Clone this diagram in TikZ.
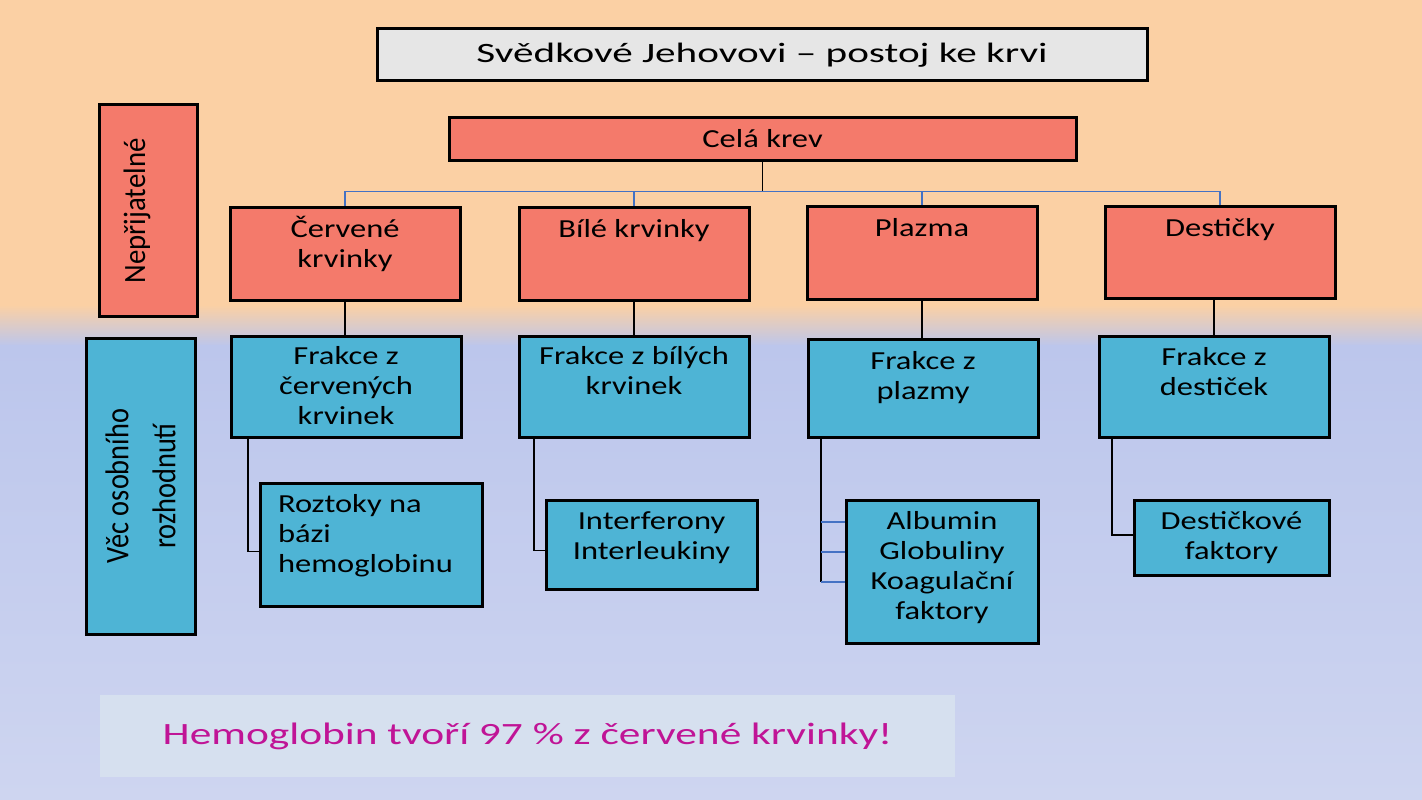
\documentclass[tikz,border=0pt]{standalone}
\usepackage{fontspec}
\setmainfont{Carlito}
\newfontfamily\boxfont{Carlito}[FakeStretch=1.25]
\newfontfamily\titlefont{Carlito}[FakeStretch=1.47]
\newfontfamily\banfont{Carlito}[FakeStretch=1.4]
\newfontfamily\sidefontA{Carlito}[FakeStretch=0.93]
\newfontfamily\sidefontB{Carlito}[FakeStretch=0.86]
\definecolor{peach}{RGB}{251,208,164}
\definecolor{lavA}{RGB}{188,198,236}
\definecolor{lavB}{RGB}{206,213,240}
\definecolor{salmon}{RGB}{244,122,107}
\definecolor{cyanbox}{RGB}{78,180,213}
\definecolor{titlegray}{RGB}{230,230,230}
\definecolor{banner}{RGB}{214,224,239}
\definecolor{magtext}{RGB}{192,20,150}
\definecolor{busblue}{RGB}{68,114,196}
\newcommand\bt[4]{\parbox[c][#2pt][t]{#1pt}{\centering\baselineskip=30pt\rule{0pt}{#3pt}#4\par}}
\newcommand\btl[5]{\parbox[c][#2pt][t]{#1pt}{\raggedright\leftskip=#4pt\baselineskip=30pt\rule{0pt}{#3pt}#5\par}}
\begin{document}
\begin{tikzpicture}[x=1pt,y=-1pt,
  redbox/.style={draw=black,line width=3pt,fill=salmon,inner sep=0pt,font=\boxfont\fontsize{26}{30}\selectfont},
  bluebox/.style={draw=black,line width=3pt,fill=cyanbox,inner sep=0pt,font=\boxfont\fontsize{26}{30}\selectfont},
  blk/.style={draw=black,line width=1.4pt},
  bl/.style={draw=busblue,line width=1.3pt}]
\useasboundingbox (0,0) rectangle (1422,800);
% background
\fill[peach] (0,0) rectangle (1422,306);
\shade[top color=peach,bottom color=lavA] (0,305) rectangle (1422,346);
\shade[top color=lavA,bottom color=lavB] (0,345) rectangle (1422,800);
% title
\node[draw=black,line width=3pt,fill=titlegray,minimum width=770pt,minimum height=52pt,inner sep=0pt,font=\titlefont\fontsize{28}{32}\selectfont] (title) at (762,55) {Svědkové Jehovovi – postoj ke krvi};
% side labels
\node[redbox,minimum width=98pt,minimum height=212pt] (nep) at (148,210) {};
\node[rotate=90,inner sep=0pt,font=\sidefontA\fontsize{31}{34}\selectfont] (neptext) at (137,211) {Nepřijatelné};
\node[bluebox,minimum width=109pt,minimum height=296pt] (vec) at (140.5,486) {};
\node[rotate=90,align=center,inner sep=0pt,font=\sidefontB\fontsize{33}{47}\selectfont] (vectext) at (vec.center) {Věc osobního\\rozhodnutí};
% level 1
\node[redbox,minimum width=627pt,minimum height=43pt] (cela) at (762.5,138.5) {Celá krev};
% level 2
\node[redbox] (cerv) at (345,253.5) {\bt{230}{93}{30}{Červené\\krvinky}};
\node[redbox] (bile) at (634,253.5) {\bt{230}{93}{30}{Bílé krvinky}};
\node[redbox] (plaz) at (922,252.5) {\bt{230}{93}{30}{Plazma}};
\node[redbox] (dest) at (1220,252) {\bt{230}{92}{30}{Destičky}};
% level 3
\node[bluebox] (fcerv) at (346,386.5) {\bt{230}{101}{28}{Frakce z\\červených\\krvinek}};
\node[bluebox] (fbile) at (634,386.5) {\bt{230}{101}{28}{Frakce z bílých\\krvinek}};
\node[bluebox] (fplaz) at (923,388) {\bt{230}{98}{30}{Frakce z\\plazmy}};
\node[bluebox] (fdest) at (1214,386.5) {\bt{230}{101}{29}{Frakce z\\destiček}};
% level 4
\node[bluebox] (rozt) at (371,544.5) {\btl{222}{123}{29}{18}{Roztoky na\\bázi\\hemoglobinu}};
\node[bluebox] (inter) at (651.5,544.5) {\bt{211}{89}{29}{Interferony\\Interleukiny}};
\node[bluebox] (alb) at (942,571.5) {\bt{192}{143}{29}{Albumin\\Globuliny\\Koagulační\\faktory}};
\node[bluebox] (dfak) at (1231.5,537.5) {\bt{195}{75}{29}{Destičkové\\faktory}};
% connectors level 1-2
\coordinate (bus) at ([yshift=-30pt]cela.south);
\draw[blk] (cela.south) -- (bus);
\draw[bl] (cerv.north) |- (bus) -| (dest.north);
\draw[bl] (bile.north) -- (bile.north |- bus);
\draw[bl] (plaz.north) -- (plaz.north |- bus);
% level 2-3
\draw[blk] (cerv.south) -- (cerv.south |- fcerv.north);
\draw[blk] (bile.south) -- (bile.south |- fbile.north);
\draw[blk] (plaz.south) -- (plaz.south |- fplaz.north);
\draw[blk] (fdest.north) -- (fdest.north |- dest.south);
% level 3-4
\draw[blk] ([xshift=-98pt]fcerv.south) |- ([yshift=-7pt]rozt.west);
\draw[blk] ([xshift=-100pt]fbile.south) |- ([yshift=-6pt]inter.west);
\coordinate (spine) at ([xshift=-102pt]fplaz.south);
\coordinate (ta) at ([yshift=49.5pt]alb.west);
\coordinate (tb) at ([yshift=19.5pt]alb.west);
\coordinate (tc) at ([yshift=-10.5pt]alb.west);
\draw[blk] (spine) -- (spine |- tc);
\draw[bl] (ta) -- (spine |- ta);
\draw[bl] (tb) -- (spine |- tb);
\draw[bl] (tc) -- (spine |- tc);
\draw[blk] ([xshift=-102pt]fdest.south) |- ([yshift=2.5pt]dfak.west);
% banner
\node[fill=banner,minimum width=855pt,minimum height=82pt,inner sep=0pt,text=magtext,font=\banfont\fontsize{31}{36}\selectfont] (ban) at (527.5,736) {Hemoglobin tvoří 97 \% z červené krvinky!};
\end{tikzpicture}
\end{document}
